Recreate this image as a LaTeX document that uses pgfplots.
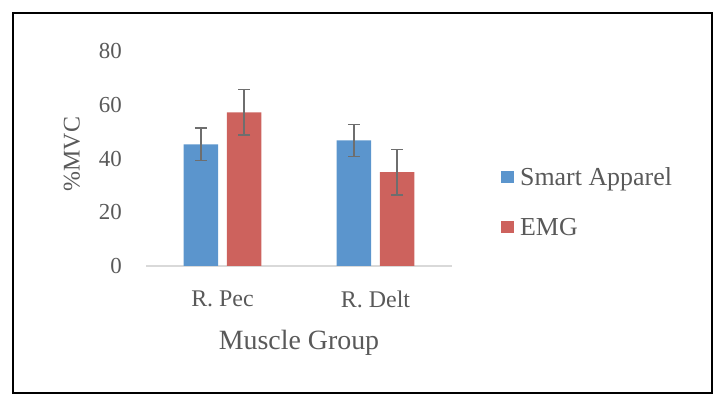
\documentclass[border=0pt]{standalone}
\usepackage{pgfplots}
\pgfplotsset{compat=1.18}
\usepackage{fontspec}
\setmainfont{Liberation Serif}

\definecolor{sablue}{HTML}{5B95CD}
\definecolor{emgred}{HTML}{CD625D}
\definecolor{errgray}{HTML}{6E6E6E}
\definecolor{txtgray}{HTML}{595959}
\definecolor{axgray}{HTML}{D9D9D9}

\begin{document}
\begin{tikzpicture}
\useasboundingbox (0,0) rectangle (726bp,408bp);
\draw[line width=2bp] (13bp,15bp) rectangle (712bp,395bp);
\begin{axis}[
    at={(146bp,142bp)}, anchor=south west,
    scale only axis, width=306bp, height=215bp,
    ybar=8.8bp, bar width=34.4bp,
    xmin=-0.5, xmax=1.5, ymin=0, ymax=80,
    xtick=data, xticklabels={R. Pec, R. Delt},
    ytick={0,20,40,60,80},
    /pgf/number format/assume math mode=true,
    major tick length=0pt,
    axis x line*=bottom, axis y line*=left,
    x axis line style={axgray, line width=1.5bp, -},
    y axis line style={draw=none},
    xticklabel style={font=\fontsize{24}{28}\selectfont, text=txtgray, anchor=north, inner sep=0pt, yshift=-25bp},
    yticklabel style={font=\fontsize{23}{27}\selectfont, text=txtgray, anchor=east, inner sep=0pt, xshift=-24bp},
    ylabel={\%MVC},
    ylabel style={font=\fontsize{24}{28}\selectfont, text=txtgray, at={(axis description cs:-0.242,0.52)}, anchor=center},
    xlabel={Muscle Group},
    xlabel style={font=\fontsize{28}{32}\selectfont, text=txtgray, at={(axis description cs:0.5,-0.298)}, anchor=north, inner sep=0pt},
    legend style={draw=none, fill=none, at={(axis description cs:1.16,0.284)}, anchor=west, inner sep=0pt,
        font=\fontsize{26}{30}\selectfont, text=txtgray, row sep=28bp,
        nodes={inner sep=0pt, text height=17bp, text depth=5bp}},
    legend cell align=left,
    legend image code/.code={\fill[#1] (0bp,-3bp) rectangle (13bp,9bp); \path (19bp,0bp);},
    error bars/y dir=both, error bars/y explicit,
    error bars/error bar style={errgray, line width=1.6bp},
    error bars/error mark options={errgray, line width=1.6bp, mark size=6bp, rotate=90},
]
\addplot[fill=sablue, draw=none] coordinates {
    (0,45.3) +- (0,6.0)
    (1,46.7) +- (0,6.0)
};
\addplot[fill=emgred, draw=none] coordinates {
    (0,57.2) +- (0,8.5)
    (1,34.9) +- (0,8.5)
};
\legend{Smart Apparel, EMG}
\end{axis}
\end{tikzpicture}
\end{document}
